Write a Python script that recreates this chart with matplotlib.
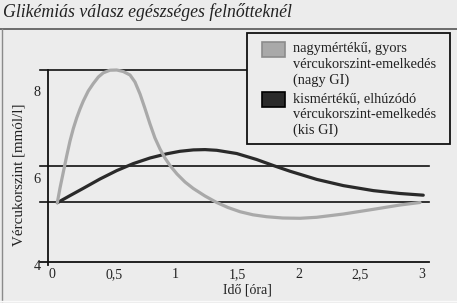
import matplotlib.pyplot as plt
import matplotlib.transforms as mtransforms
from matplotlib.patches import Rectangle

# --- data ---
gi_high_t = [0.043, 0.065, 0.092, 0.119, 0.146, 0.173, 0.200, 0.227, 0.254, 0.294,
             0.335, 0.376, 0.416, 0.470, 0.525, 0.578, 0.633, 0.673, 0.714, 0.754,
             0.795, 0.835, 0.876, 0.916, 0.957, 1.014, 1.079, 1.146, 1.241, 1.336,
             1.427, 1.525, 1.630, 1.741, 1.873, 2.011, 2.147, 2.363, 2.606, 2.822,
             2.985]
gi_high_v = [5.363, 5.701, 6.069, 6.437, 6.782, 7.069, 7.310, 7.517, 7.701, 7.931,
             8.103, 8.253, 8.349, 8.409, 8.414, 8.379, 8.299, 8.138, 7.862, 7.529,
             7.172, 6.851, 6.598, 6.391, 6.218, 6.023, 5.839, 5.690, 5.517, 5.368,
             5.253, 5.156, 5.085, 5.041, 5.011, 5.005, 5.028, 5.103, 5.211, 5.310,
             5.368]

gi_low_t = [0.043, 0.146, 0.254, 0.389, 0.525, 0.659, 0.795, 0.930, 1.038, 1.146,
            1.241, 1.336, 1.498, 1.660, 1.795, 1.930, 2.147, 2.363, 2.606, 2.822,
            3.011]
gi_low_v = [5.363, 5.526, 5.694, 5.908, 6.101, 6.262, 6.391, 6.487, 6.545, 6.577,
            6.584, 6.568, 6.494, 6.356, 6.218, 6.087, 5.899, 5.756, 5.641, 5.575,
            5.536]

ref_levels = [8.41, 6.2, 5.37]   # horizontal guide lines
x_ticks = [0, 0.5, 1, 1.5, 2, 2.5, 3]
x_tick_labels = ["0", "0,5", "1", "1,5", "2", "2,5", "3"]
y_ticks = [4, 6, 8]
y_tick_labels = ["4", "6", "8"]

series_labels = ["nagymértékű, gyors\nvércukorszint-emelkedés\n(nagy GI)",
                 "kismértékű, elhúzódó\nvércukorszint-emelkedés\n(kis GI)"]
series_colors = ["#a9a9a9", "#2a2a2a"]
patch_edges = ["#8c8c8c", "#000000"]

title = "Glikémiás válasz egészséges felnőtteknél"
x_label = "Idő [óra]"
y_label = "Vércukorszint [mmól/l]"

bg = "#ececec"
W, H = 457, 303
plt.rcParams['font.family'] = ['Liberation Serif', 'DejaVu Serif']

fig = plt.figure(figsize=(W / 100, H / 100), dpi=100, facecolor=bg)


def fx(px):
    return px / W


def fy(py):
    return 1 - py / H


ax = fig.add_axes([fx(38), fy(268), fx(394), 202 / H])
ax.set_facecolor(bg)
ax.set_xlim(-0.1135, 3.082)
ax.set_ylim(3.862, 8.506)
for s in ax.spines.values():
    s.set_visible(False)

# guide lines
for lvl in ref_levels:
    ax.plot([-0.097, 3.054], [lvl, lvl], color="#111111", lw=1.2, zorder=1)

# axes drawn as lines
ax.plot([-0.097, 3.054], [4, 4], color="#111111", lw=1.3, zorder=1)
ax.plot([-0.035, -0.035], [3.93, ref_levels[0]], color="#111111", lw=1.3, zorder=1)

ax.plot(gi_low_t, gi_low_v, color=series_colors[1], lw=2.3,
        solid_capstyle='round', solid_joinstyle='round', zorder=3)
ax.plot(gi_high_t, gi_high_v, color=series_colors[0], lw=2.3,
        solid_capstyle='round', solid_joinstyle='round', zorder=4)

ax.set_xticks(x_ticks)
ax.set_xticklabels(x_tick_labels, fontsize=10)
ax.set_yticks(y_ticks)
ax.set_yticklabels(y_tick_labels, fontsize=10.3)
ax.tick_params(length=0, pad=0, colors="#222222")
ax.tick_params(axis='y', pad=-2)
shift = mtransforms.ScaledTranslation(0, -3 / 100, fig.dpi_scale_trans)
for lab in ax.get_yticklabels():
    lab.set_transform(lab.get_transform() + shift)

fig.text(fx(247), fy(290), x_label, ha='center', va='center', fontsize=10,
         color="#222222")
fig.text(fx(19), fy(175), y_label, ha='center', va='center', rotation=90,
         fontsize=10.8, color="#222222")

# title
fig.text(fx(3), fy(17), title, ha='left', va='baseline', fontsize=12.8,
         style='italic', color="#222222")

# panel border
fig.add_artist(plt.Line2D([fx(0), fx(W)], [fy(29), fy(29)], color="#555555", lw=1.2))
fig.add_artist(plt.Line2D([fx(2), fx(2)], [fy(29), fy(301)], color="#8a8a8a", lw=1.0))
fig.add_artist(plt.Line2D([fx(0), fx(W)], [fy(301), fy(301)], color="#fafafa", lw=1.0))

# legend box
fig.add_artist(Rectangle((fx(247), fy(144)), fx(203), 111 / H, facecolor=bg,
                         edgecolor="#111111", lw=1.3, zorder=5))
for i, (lab, col, ec) in enumerate(zip(series_labels, series_colors, patch_edges)):
    top = 42 + i * 50
    fig.add_artist(Rectangle((fx(262), fy(top + 15)), fx(23), 15 / H,
                             facecolor=col, edgecolor=ec, lw=1.2, zorder=6))
    fig.text(fx(293), fy(top), lab, ha='left', va='top', fontsize=10.4,
             linespacing=1.25, color="#222222", zorder=6)

fig.savefig("out.png", dpi=100, facecolor=bg)
